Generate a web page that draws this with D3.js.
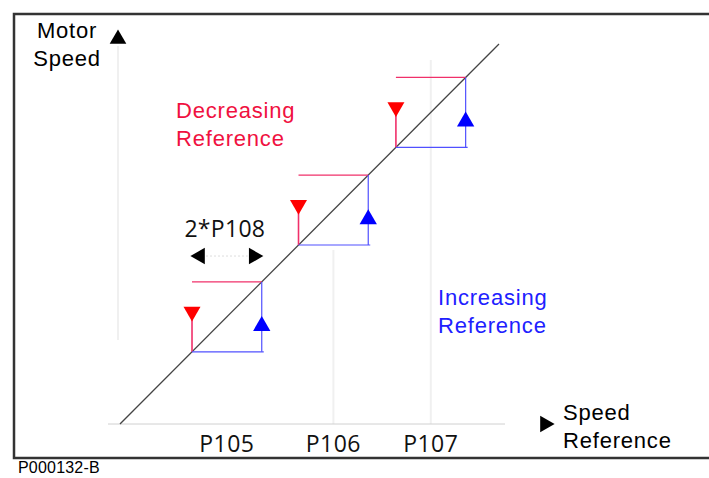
<!DOCTYPE html>
<html>
<head>
<meta charset="utf-8">
<script src="https://cdn.jsdelivr.net/npm/d3@7"></script>
<style>
  body { margin: 0; background: #fff; }
  svg { display: block; }
</style>
</head>
<body>
<div class="container"></div>
<script>
// setpoints on the speed reference axis (x = y on the diagonal)
const setpointLabels = ['P105', 'P106', 'P107'];
const setpointValues = [28.2, 56.3, 82.0];
const hysteresis = 9.2;           // P108, half width of each band
const bandLabel = '2*P108';
const bandArrowLevel = 44.2;      // height of the 2*P108 arrows

const W = 709, H = 478;

const svg = d3.select('.container')
  .append('svg')
  .attr('width', W)
  .attr('height', H);

const x = d3.scaleLinear().domain([0, 100]).range([120, 499]);
const y = d3.scaleLinear().domain([0, 100]).range([424, 44]);

// frame (right edge runs off the picture)
svg.append('rect')
  .attr('x', 14).attr('y', 14)
  .attr('width', 760).attr('height', 444)
  .attr('fill', 'none')
  .attr('stroke', '#333')
  .attr('stroke-width', 2.5);

// faint guide lines
const faint = svg.append('g').attr('stroke', '#f0f0f0').attr('stroke-width', 2);
faint.append('line').attr('x1', 118).attr('x2', 118).attr('y1', 46).attr('y2', 340);
faint.append('line').attr('x1', x(setpointValues[1])).attr('x2', x(setpointValues[1]))
  .attr('y1', 250).attr('y2', 424);
faint.append('line').attr('x1', x(setpointValues[2])).attr('x2', x(setpointValues[2]))
  .attr('y1', 60).attr('y2', 424);

// x axis line
svg.append('line')
  .attr('x1', 108).attr('x2', 505)
  .attr('y1', y(0)).attr('y2', y(0))
  .attr('stroke', '#d0d0d0')
  .attr('stroke-width', 1);

const tri = d3.symbol().type(d3.symbolTriangle);

// axis arrow heads
svg.append('path')
  .attr('d', tri.size(120)())
  .attr('transform', 'translate(118,39)')
  .attr('fill', '#000');
svg.append('path')
  .attr('d', tri.size(120)())
  .attr('transform', 'translate(545,424) rotate(90)')
  .attr('fill', '#000');

// diagonal
svg.append('line')
  .attr('x1', x(0)).attr('y1', y(0))
  .attr('x2', x(100)).attr('y2', y(100))
  .attr('stroke', '#444')
  .attr('stroke-width', 1.3);

// hysteresis bands
const bands = svg.selectAll('g.band')
  .data(setpointValues)
  .join('g')
  .attr('class', 'band');

bands.each(function(v) {
  const g = d3.select(this);
  const lo = v - hysteresis, hi = v + hysteresis;
  const redLevel = lo + 0.56 * (hi - lo);
  const blueLevel = lo + 0.37 * (hi - lo);

  // decreasing path (red)
  g.append('line')
    .attr('x1', x(lo)).attr('x2', x(hi))
    .attr('y1', y(hi)).attr('y2', y(hi))
    .attr('stroke', '#f0306a').attr('stroke-width', 1.2);
  g.append('line')
    .attr('x1', x(lo)).attr('x2', x(lo))
    .attr('y1', y(lo)).attr('y2', y(redLevel))
    .attr('stroke', '#f0306a').attr('stroke-width', 1.6);

  // increasing path (blue)
  g.append('line')
    .attr('x1', x(lo)).attr('x2', x(hi) + 2)
    .attr('y1', y(lo)).attr('y2', y(lo))
    .attr('stroke', '#5050ff').attr('stroke-width', 1.2);
  g.append('line')
    .attr('x1', x(hi)).attr('x2', x(hi))
    .attr('y1', y(hi)).attr('y2', y(lo))
    .attr('stroke', '#5050ff').attr('stroke-width', 1.2);

  g.append('path')
    .attr('d', tri.size(125)())
    .attr('transform', `translate(${x(lo)},${y(redLevel) - 1}) rotate(180)`)
    .attr('fill', '#ff0000');
  g.append('path')
    .attr('d', tri.size(130)())
    .attr('transform', `translate(${x(hi)},${y(blueLevel)})`)
    .attr('fill', '#0000ff');
});

// 2*P108 width arrows
const a0 = setpointValues[0] - hysteresis, a1 = setpointValues[0] + hysteresis;
svg.append('line')
  .attr('x1', x(a0) + 14).attr('x2', x(a1) - 14)
  .attr('y1', y(bandArrowLevel)).attr('y2', y(bandArrowLevel))
  .attr('stroke', '#ddd').attr('stroke-dasharray', '2,2');
svg.append('path')
  .attr('d', tri.size(120)())
  .attr('transform', `translate(${x(a0) + 8},${y(bandArrowLevel)}) rotate(-90)`)
  .attr('fill', '#000');
svg.append('path')
  .attr('d', tri.size(120)())
  .attr('transform', `translate(${x(a1) - 8},${y(bandArrowLevel)}) rotate(90)`)
  .attr('fill', '#000');
svg.append('text')
  .attr('x', x(setpointValues[0]) - 2).attr('y', 237)
  .attr('text-anchor', 'middle')
  .attr('font-family', '"Open Sans", sans-serif')
  .attr('font-size', 23)
  .attr('letter-spacing', 0.3)
  .attr('fill', '#111')
  .text(bandLabel);

// setpoint labels
svg.selectAll('text.sp')
  .data(setpointLabels)
  .join('text')
  .attr('class', 'sp')
  .attr('x', (d, i) => x(setpointValues[i]))
  .attr('y', 452)
  .attr('text-anchor', 'middle')
  .attr('font-family', '"Open Sans", sans-serif')
  .attr('font-size', 23)
  .attr('letter-spacing', 0.5)
  .attr('fill', '#111')
  .text(d => d);

// text blocks
function block(lines, px, py, anchor, color) {
  const t = svg.append('text')
    .attr('font-family', '"Liberation Sans", Arial, sans-serif')
    .attr('font-size', 22)
    .attr('letter-spacing', 0.8)
    .attr('fill', color)
    .attr('text-anchor', anchor);
  lines.forEach((s, i) => {
    t.append('tspan').attr('x', px).attr('y', py + i * 28).text(s);
  });
}
block(['Motor', 'Speed'], 67, 38, 'middle', '#000');
block(['Decreasing', 'Reference'], 176, 118, 'start', '#f01040');
block(['Increasing', 'Reference'], 438, 305, 'start', '#2020ff');
block(['Speed', 'Reference'], 563, 420, 'start', '#000');

svg.append('text')
  .attr('x', 18).attr('y', 473)
  .attr('font-family', '"Liberation Sans", Arial, sans-serif')
  .attr('font-size', 16)
  .attr('letter-spacing', 0.2)
  .attr('fill', '#000')
  .text('P000132-B');
</script>
</body>
</html>
